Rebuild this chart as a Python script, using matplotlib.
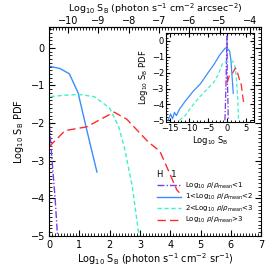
import numpy as np
import matplotlib
matplotlib.use("Agg")
import matplotlib.pyplot as plt
from matplotlib.ticker import MultipleLocator, FixedLocator

# log10 surface brightness (photon s^-1 cm^-2 sr^-1) and log10 PDF, per density bin
x_low = [-0.6, -0.35, -0.15, -0.05, 0.0, 0.1, 0.2, 0.28]
y_low = [-5.0, -3.0, -0.6, 0.3, -1.9, -3.0, -4.0, -5.0]

x_mid1 = [-15.5, -14.8, -14.3, -13.8, -13.3, -12.5, -11, -9, -7, -5, -3.5, -2, -1, -0.5, 0.0, 0.36, 0.67, 0.96, 1.25, 1.58]
y_mid1 = [-5.0, -4.6, -4.9, -4.5, -4.7, -4.3, -3.8, -3.2, -2.7, -2.0, -1.5, -0.9, -0.6, -0.45, -0.49, -0.55, -0.69, -1.2, -2.2, -3.3]

x_mid2 = [-12.5, -11, -9.5, -7.5, -5.1, -3.5, -2.3, -1.2, 0.0, 0.5, 1.0, 1.5, 2.0, 2.3, 2.5, 2.75, 2.97]
y_mid2 = [-5.0, -4.7, -4.2, -3.6, -3.0, -2.6, -2.1, -1.4, -1.3, -1.26, -1.24, -1.3, -1.6, -2.1, -2.7, -3.7, -5.0]

x_high = [0.0, 0.53, 1.25, 1.7, 2.15, 2.57, 3.27, 3.66, 4.22, 4.3]
y_high = [-2.63, -2.2, -2.1, -1.9, -1.71, -1.9, -2.5, -2.75, -3.78, -3.85]

top_ticks = [-10, -9, -8, -7, -6, -5, -4]

labels = [r'Log$_{10}$ $\rho/\rho_{\rm mean}$<1',
          r'1<Log$_{10}$ $\rho/\rho_{\rm mean}$<2',
          r'2<Log$_{10}$ $\rho/\rho_{\rm mean}$<3',
          r'Log$_{10}$ $\rho/\rho_{\rm mean}$>3']

colors = ['#7a3ce6', '#3a8cff', '#3cf0c8', '#ff2a2a']
styles = [(0, (5, 1.5, 1, 1.5)), '-', (0, (3, 2)), (0, (6, 3))]

# sr -> arcsec^2 conversion offset
offset = np.log10((180 / np.pi * 3600) ** 2)

plt.rcParams['font.size'] = 7
plt.rcParams['mathtext.fontset'] = 'dejavusans'

fig = plt.figure(figsize=(2.74, 2.74), dpi=100)
ax = fig.add_axes([0.179, 0.139, 0.774, 0.762])

series = [(x_low, y_low), (x_mid1, y_mid1), (x_mid2, y_mid2), (x_high, y_high)]
for (xs, ys), c, ls, lab in zip(series, colors, styles, labels):
    ax.plot(xs, ys, color=c, ls=ls, lw=1.0, label=lab)

ax.set_xlim(0, 7)
ax.set_ylim(-5, 0.55)
ax.xaxis.set_major_locator(MultipleLocator(1))
ax.xaxis.set_minor_locator(MultipleLocator(0.1))
ax.yaxis.set_major_locator(MultipleLocator(1))
ax.yaxis.set_minor_locator(MultipleLocator(0.1))
ax.tick_params(which='both', direction='in', right=True, top=False, labelsize=7)
ax.tick_params(which='major', length=4, pad=3)
ax.tick_params(which='minor', length=2)
ax.set_xlabel(r'Log$_{10}$ S$_{\rm B}$ (photon s$^{-1}$ cm$^{-2}$ sr$^{-1}$)', fontsize=7, labelpad=1)
ax.set_ylabel(r'Log$_{10}$ S$_{\rm B}$ PDF', fontsize=7, labelpad=3)

top = ax.secondary_xaxis('top', functions=(lambda v: v - offset, lambda v: v + offset))
top.xaxis.set_major_locator(FixedLocator(top_ticks))
top.xaxis.set_minor_locator(MultipleLocator(0.1))
top.tick_params(which='both', direction='in', labelsize=7)
top.tick_params(which='major', length=4, pad=0.5)
top.tick_params(which='minor', length=2)
top.set_xlabel(r'Log$_{10}$ S$_{\rm B}$ (photon s$^{-1}$ cm$^{-2}$ arcsec$^{-2}$)', fontsize=6.8, labelpad=3)

leg = ax.legend(loc='lower right', bbox_to_anchor=(0.99, 0.02), fontsize=5, frameon=False,
                handlelength=3.5, handletextpad=0.5, labelspacing=0.2,
                title='H   1', title_fontsize=6)
leg._legend_box.align = 'left'

# inset with the full range
ins = fig.add_axes([0.606, 0.555, 0.321, 0.325])
for (xs, ys), c, ls in zip(series, colors, styles):
    ins.plot(xs, ys, color=c, ls=ls, lw=0.9)
ins.set_xlim(-16, 7)
ins.set_ylim(-5.1, 0.5)
ins.xaxis.set_major_locator(MultipleLocator(5))
ins.xaxis.set_minor_locator(MultipleLocator(1))
ins.yaxis.set_major_locator(MultipleLocator(1))
ins.yaxis.set_minor_locator(MultipleLocator(0.2))
ins.tick_params(which='both', direction='in', right=True, top=True, labelsize=6, pad=1.5)
ins.tick_params(which='major', length=3)
ins.tick_params(which='minor', length=1.5)
ins.set_xlabel(r'Log$_{10}$ S$_{\rm B}$', fontsize=6, labelpad=1)
ins.set_ylabel(r'Log$_{10}$ S$_{\rm B}$ PDF', fontsize=6, labelpad=1)

fig.savefig('out.png', dpi=100)
